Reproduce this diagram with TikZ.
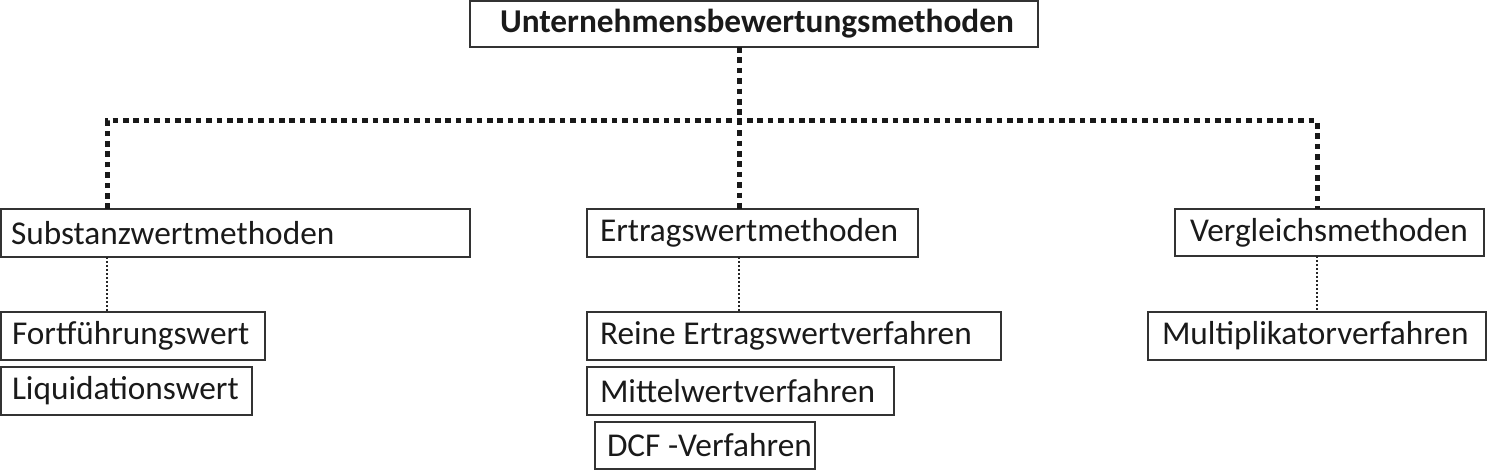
\documentclass[tikz,border=0pt]{standalone}
\usepackage{fontspec}
\setmainfont{Carlito}
\definecolor{bordercol}{HTML}{333333}
\definecolor{textcol}{HTML}{1A1A1A}
\newcommand\bxtext[2]{\makebox[#1][l]{#2}}
\tikzset{
  bx/.style 2 args={draw=bordercol, line width=1pt, anchor=north west,
    inner xsep=#1, inner ysep=0pt, minimum height=#2, outer sep=0pt,
    text=textcol, font=\fontsize{16.65}{20}\selectfont},
  thickdots/.style={line width=2.5pt, draw=black!90, dash pattern=on 2.8pt off 2.4pt},
  thindots/.style={line width=1pt, draw=black!85, dash pattern=on 1pt off 1pt}
}
\begin{document}
\begin{tikzpicture}[x=0.5pt,y=-0.5pt]
\useasboundingbox (0,0) rectangle (1488,470);
% top
\node[bx={15pt}{23pt}] (top) at (470,1) {\bxtext{254pt}{\bfseries Unternehmensbewertungsmethoden}};
% level 2
\node[bx={5pt}{24pt}] (sub) at (1,209) {\bxtext{224.5pt}{Substanzwertmethoden}};
\node[bx={6.5pt}{24pt}] (ert) at (587,209) {\bxtext{152.5pt}{Ertragswertmethoden}};
\node[bx={7.5pt}{23.5pt}] (ver) at (1175,209) {\bxtext{139.5pt}{Vergleichsmethoden}};
% level 3
\node[bx={5.5pt}{24pt}] (fort) at (1,312) {\bxtext{121pt}{Fortführungswert}};
\node[bx={5.5pt}{24pt}] (liq) at (1,367) {\bxtext{114.5pt}{Liquidationswert}};
\node[bx={6.5pt}{24pt}] (rein) at (587,312) {\bxtext{194pt}{Reine Ertragswertverfahren}};
\node[bx={6.5pt}{24pt}] (mit) at (587,367) {\bxtext{140.5pt}{Mittelwertverfahren}};
\node[bx={6pt}{23.5pt}] (dcf) at (595,422) {\bxtext{98pt}{DCF -Verfahren}};
\node[bx={7pt}{24pt}] (mul) at (1148,312) {\bxtext{155pt}{Multiplikatorverfahren}};
% connector coordinates
\coordinate (cl) at (107,121);
\coordinate (cm) at (739,121);
\coordinate (cr) at (1317,121);
% thick dotted connectors
\draw[thickdots] (top.south -| cm) -- (ert.north -| cm);
\draw[thickdots] (sub.north -| cl) -- (cl) -- (cr) -- (ver.north -| cr);
% thin dotted connectors
\draw[thindots] (sub.south -| cl) -- (fort.north -| cl);
\draw[thindots] (ert.south -| cm) -- (rein.north -| cm);
\draw[thindots] (ver.south -| cr) -- (mul.north -| cr);
\end{tikzpicture}
\end{document}
